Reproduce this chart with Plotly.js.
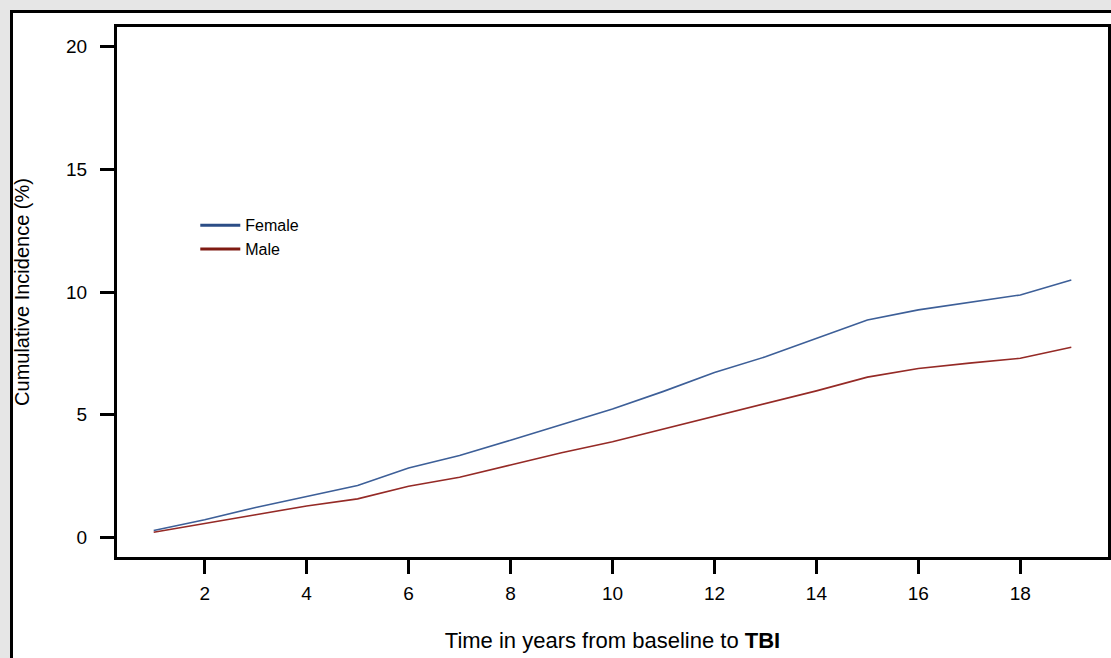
<!DOCTYPE html>
<html>
<head>
<meta charset="utf-8">
<script src="https://cdn.plot.ly/plotly-3.0.1.min.js"></script>
<style>
  html, body { margin: 0; padding: 0; background: #e6e6e6; width: 1111px; height: 658px; overflow: hidden; }
  #frame { position: absolute; left: 10px; top: 10px; width: 1120px; height: 670px; background: #ffffff; border: 3px solid #000; }
  #chart { position: absolute; left: 0; top: 0; width: 1111px; height: 658px; }
</style>
</head>
<body>
<div id="frame"></div>
<div id="chart"></div>
<script>
const years = [1, 2, 3, 4, 5, 6, 7, 8, 9, 10, 11, 12, 13, 14, 15, 16, 17, 18, 19];
const female = [0.28, 0.72, 1.22, 1.68, 2.11, 2.83, 3.34, 3.96, 4.6, 5.23, 5.95, 6.72, 7.36, 8.1, 8.86, 9.27, 9.57, 9.88, 10.49];
const male = [0.21, 0.55, 0.92, 1.28, 1.57, 2.08, 2.45, 2.95, 3.45, 3.9, 4.42, 4.94, 5.44, 5.97, 6.53, 6.88, 7.1, 7.3, 7.75];
const seriesNames = ["Female", "Male"];
const seriesColors = ["#3d5f98", "#952a26"];
const legendColors = ["#2b4d86", "#7f1a12"];
const xTicks = [2, 4, 6, 8, 10, 12, 14, 16, 18];
const yTicks = [0, 5, 10, 15, 20];

const traces = [
  { x: years, y: female, type: "scatter", mode: "lines", name: seriesNames[0], showlegend: false,
    line: { color: seriesColors[0], width: 1.6 } },
  { x: years, y: male, type: "scatter", mode: "lines", name: seriesNames[1], showlegend: false,
    line: { color: seriesColors[1], width: 1.6 } },
  { x: [null], y: [null], type: "scatter", mode: "lines", name: seriesNames[0],
    line: { color: legendColors[0], width: 3 } },
  { x: [null], y: [null], type: "scatter", mode: "lines", name: seriesNames[1],
    line: { color: legendColors[1], width: 3 } }
];

const layout = {
  width: 1111, height: 658,
  paper_bgcolor: "rgba(0,0,0,0)",
  plot_bgcolor: "#ffffff",
  margin: { l: 117, r: 3, t: 27, b: 101 },
  font: { family: "Liberation Sans, Arial, sans-serif", color: "#000" },
  showlegend: true,
  legend: {
    x: 0.079, y: 0.658, xanchor: "left", yanchor: "top",
    bgcolor: "rgba(0,0,0,0)", borderwidth: 0,
    font: { size: 16, color: "#000" },
    itemwidth: 40, tracegroupgap: 0
  },
  xaxis: {
    range: [0.28, 19.72], tickvals: xTicks, ticktext: xTicks.map(String),
    showgrid: false, zeroline: false,
    showline: true, mirror: true, linecolor: "#000", linewidth: 3,
    ticks: "outside", ticklen: 14, tickwidth: 3, tickcolor: "#000",
    ticklabelstandoff: 3,
    tickfont: { size: 19, color: "#000" },
    title: { text: "Time in years from baseline to <b>TBI</b>", font: { size: 22, color: "#000" }, standoff: 30 }
  },
  yaxis: {
    range: [-0.8, 20.8], tickvals: yTicks, ticktext: yTicks.map(String),
    showgrid: false, zeroline: false,
    showline: true, mirror: true, linecolor: "#000", linewidth: 3,
    ticks: "outside", ticklen: 14, tickwidth: 3, tickcolor: "#000",
    ticklabelstandoff: 9,
    tickfont: { size: 19, color: "#000" },
    title: { text: "Cumulative Incidence (%)", font: { size: 20, color: "#000" }, standoff: 32 }
  }
};

Plotly.newPlot("chart", traces, layout, { displayModeBar: false, staticPlot: true });
</script>
</body>
</html>
